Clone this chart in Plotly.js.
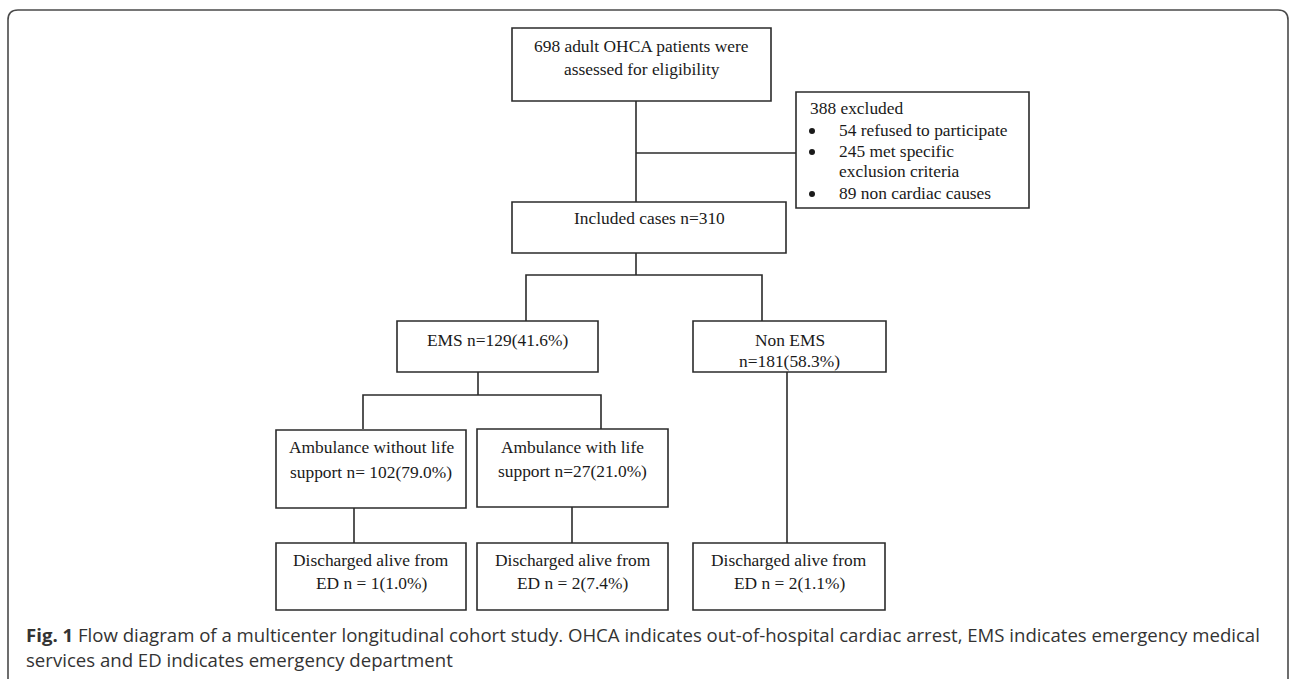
<!DOCTYPE html>
<html>
<head>
<meta charset="utf-8">
<script src="https://cdn.plot.ly/plotly-3.0.1.min.js"></script>
<style>
  html, body { margin: 0; padding: 0; background: #ffffff; }
  #chart { width: 1290px; height: 679px; }
</style>
</head>
<body>
<div id="chart"></div>
<script>
// ---- Content (text & counts) ----
const boxLabels = [
  "698 adult OHCA patients were<br>assessed for eligibility",
  "Included cases n=310",
  "EMS n=129(41.6%)",
  "Non EMS<br>n=181(58.3%)",
  "Ambulance without life<br>support n= 102(79.0%)",
  "Ambulance with life<br>support n=27(21.0%)",
  "Discharged alive from<br>ED n = 1(1.0%)",
  "Discharged alive from<br>ED n = 2(7.4%)",
  "Discharged alive from<br>ED n = 2(1.1%)"
];
const exclusionTitle = "388 excluded";
const exclusionItems = [
  "54 refused to participate",
  "245 met specific<br>exclusion criteria",
  "89 non cardiac causes"
];
const captionLines = [
  "<b>Fig. 1</b> Flow diagram of a multicenter longitudinal cohort study. OHCA indicates out-of-hospital cardiac arrest, EMS indicates emergency medical",
  "services and ED indicates emergency department"
];

// ---- Layout geometry (pixel-space, axis units) ----
const boxGeom = [
  {x0: 512, x1: 771, y0: 28,  y1: 101, lineY: [46, 69]},
  {x0: 512, x1: 786, y0: 202, y1: 253, lineY: [218]},
  {x0: 397, x1: 598, y0: 321, y1: 372, lineY: [340]},
  {x0: 693, x1: 886, y0: 321, y1: 372, lineY: [340, 361]},
  {x0: 276, x1: 466, y0: 430, y1: 508, lineY: [447, 472]},
  {x0: 477, x1: 668, y0: 429, y1: 507, lineY: [447, 471]},
  {x0: 276, x1: 466, y0: 543, y1: 610, lineY: [560, 583]},
  {x0: 477, x1: 668, y0: 543, y1: 610, lineY: [560, 583]},
  {x0: 693, x1: 885, y0: 543, y1: 610, lineY: [560, 583]}
];
const exclGeom = {x0: 796, x1: 1029, y0: 92, y1: 208, titleX: 808, titleY: 108,
                  bulletX: 812, textX: 837, itemLineY: [[130], [151, 171], [193]]};
const connectors = [
  [[636, 101], [636, 202]],
  [[636, 153], [796, 153]],
  [[636, 253], [636, 275]],
  [[526, 321], [526, 275], [762, 275], [762, 321]],
  [[478, 372], [478, 395]],
  [[363, 429], [363, 395], [601, 395], [601, 429]],
  [[354, 508], [354, 543]],
  [[572, 507], [572, 543]],
  [[787, 372], [787, 543]]
];
const captionGeom = {x: 24, y: [634, 659]};

const LINE = {color: '#2b2b2b', width: 1.6};
const serif = {family: '"Liberation Serif", "Times New Roman", serif', size: 17.4, color: '#1a1a1a'};
const sans = {family: '"Open Sans", "Noto Sans", sans-serif', size: 18.6, color: '#333333'};

const shapes = [];
const annotations = [];

// outer frame
shapes.push({type: 'path', xref: 'x', yref: 'y',
  path: 'M 8 679 L 8 20 Q 8 10 18 10 L 1278 10 Q 1288 10 1288 20 L 1288 679',
  line: {color: '#4a4a4a', width: 1.6}});

// boxes
boxGeom.forEach((g, i) => {
  shapes.push({type: 'rect', xref: 'x', yref: 'y', x0: g.x0, x1: g.x1, y0: g.y0, y1: g.y1,
    line: LINE, fillcolor: 'rgba(0,0,0,0)'});
  const parts = boxLabels[i].split('<br>');
  parts.forEach((t, k) => {
    annotations.push({xref: 'x', yref: 'y', x: (g.x0 + g.x1) / 2, y: g.lineY[k],
      text: t, showarrow: false, xanchor: 'center', yanchor: 'middle', font: serif});
  });
});

// exclusion box
shapes.push({type: 'rect', xref: 'x', yref: 'y', x0: exclGeom.x0, x1: exclGeom.x1,
  y0: exclGeom.y0, y1: exclGeom.y1, line: LINE, fillcolor: 'rgba(0,0,0,0)'});
annotations.push({xref: 'x', yref: 'y', x: exclGeom.titleX, y: exclGeom.titleY, text: exclusionTitle,
  showarrow: false, xanchor: 'left', yanchor: 'middle', font: serif});
const bulletX = [], bulletY = [];
exclusionItems.forEach((item, i) => {
  const ys = exclGeom.itemLineY[i];
  bulletX.push(exclGeom.bulletX);
  bulletY.push(ys[0] + 1);
  item.split('<br>').forEach((t, k) => {
    annotations.push({xref: 'x', yref: 'y', x: exclGeom.textX, y: ys[k], text: t,
      showarrow: false, xanchor: 'left', yanchor: 'middle', font: serif});
  });
});

// connectors
connectors.forEach(pts => {
  const path = pts.map((p, i) => (i === 0 ? 'M ' : 'L ') + p[0] + ' ' + p[1]).join(' ');
  shapes.push({type: 'path', xref: 'x', yref: 'y', path: path, line: LINE});
});

// caption
captionLines.forEach((t, i) => {
  annotations.push({xref: 'x', yref: 'y', x: captionGeom.x, y: captionGeom.y[i], text: t,
    showarrow: false, xanchor: 'left', yanchor: 'middle', align: 'left', font: sans});
});

const traces = [{
  type: 'scatter', mode: 'markers', x: bulletX, y: bulletY,
  marker: {symbol: 'circle', size: 6, color: '#1a1a1a'},
  hoverinfo: 'skip', showlegend: false
}];

const layout = {
  width: 1290, height: 679,
  margin: {l: 0, r: 0, t: 0, b: 0, pad: 0},
  paper_bgcolor: '#ffffff', plot_bgcolor: '#ffffff',
  showlegend: false,
  xaxis: {range: [0, 1290], visible: false, fixedrange: true},
  yaxis: {range: [679, 0], visible: false, fixedrange: true},
  shapes: shapes,
  annotations: annotations
};

Plotly.newPlot('chart', traces, layout, {displayModeBar: false, staticPlot: true});
</script>
</body>
</html>
